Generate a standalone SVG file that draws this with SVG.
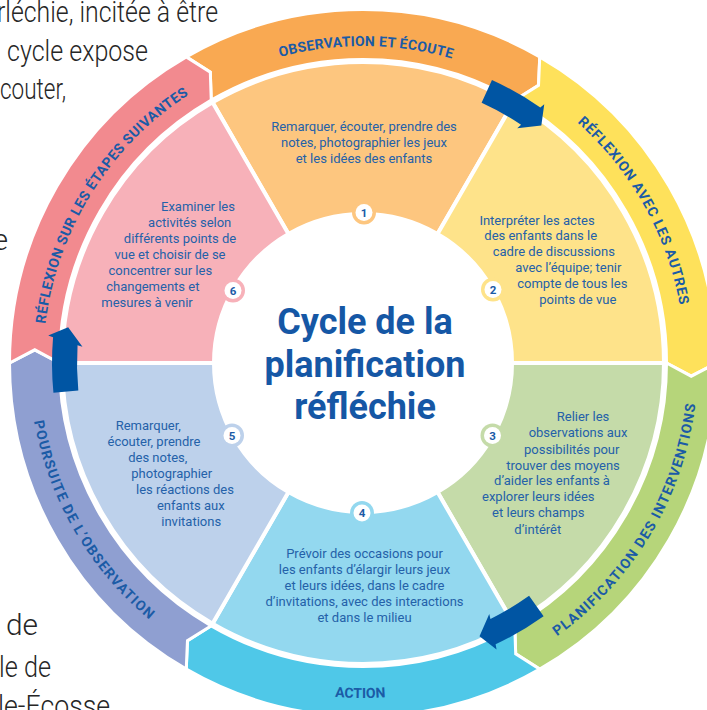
<svg xmlns="http://www.w3.org/2000/svg" width="707" height="710" viewBox="0 0 707 710">
<style>
.bg{font-family:Roboto,"Liberation Sans",sans-serif;font-weight:300;font-size:29px;fill:#262626}
.wt{font-family:Roboto,"Liberation Sans",sans-serif;font-size:13px;fill:#2461A9;text-anchor:middle}
.rl{font-family:Roboto,"Liberation Sans",sans-serif;font-weight:700;font-size:14px;fill:#1B5BA6;text-anchor:middle}
.bn{font-family:Roboto,"Liberation Sans",sans-serif;font-weight:700;font-size:11.5px;fill:#1B5BA6;text-anchor:middle}
.title{font-family:Roboto,"Liberation Sans",sans-serif;font-weight:700;font-size:36px;fill:#1557A5;text-anchor:middle}
.wedge{stroke:#fff;stroke-width:4;stroke-linejoin:miter}
.seg{stroke:#fff;stroke-width:3;stroke-linejoin:miter}
.arrow{fill:#0055A3}
</style>
<defs>
<path id="p1" d="M46,363 A317,317 0 1 1 680,363 A317,317 0 1 1 46,363"/>
<path id="p2" d="M41,363 A322,322 0 1 1 685,363 A322,322 0 1 1 41,363"/>
<path id="p6" d="M43,363 A320,320 0 1 1 683,363 A320,320 0 1 1 43,363"/>
<path id="p5" d="M29,363 A334,334 0 1 0 697,363 A334,334 0 1 0 29,363"/>
<path id="p4" d="M28,363 A335,335 0 1 0 698,363 A335,335 0 1 0 28,363"/>
</defs>
<rect width="707" height="710" fill="#fff"/>
<g id="background-text">
<text class="bg" x="-3" y="22" textLength="221" lengthAdjust="spacingAndGlyphs">rléchie, incitée à être</text>
<text class="bg" x="7" y="60.5" textLength="141" lengthAdjust="spacingAndGlyphs">cycle expose</text>
<text class="bg" x="0" y="99" textLength="66" lengthAdjust="spacingAndGlyphs">couter,</text>
<text class="bg" x="-7" y="250">e</text>
<text class="bg" x="6" y="635" textLength="32" lengthAdjust="spacingAndGlyphs">de</text>
<text class="bg" x="-1" y="677" textLength="52" lengthAdjust="spacingAndGlyphs">le de</text>
<text class="bg" x="-2" y="716" textLength="112" lengthAdjust="spacingAndGlyphs">le-Écosse</text>
</g>
<g id="node-1">
<path class="wedge" fill="#FDC67F" d="M212.5,102.33 A301,301 0 0 1 513.5,102.33 L437.5,233.96 A149,149 0 0 0 288.5,233.96 Z"/>
<path class="seg" fill="#F9A952" d="M186.25,56.86 A353.5,353.5 0 0 1 539.75,56.86 L538.53,85.33 L514.75,100.16 A303.5,303.5 0 0 0 211.25,100.16 L210.3,72.15 Z"/>
<text class="rl"><textPath href="#p1" startOffset="500.7" textLength="174">OBSERVATION ET ÉCOUTE</textPath></text>
<text class="wt" x="364" y="131">Remarquer, écouter, prendre des</text>
<text class="wt" x="364" y="147">notes, photographier les jeux</text>
<text class="wt" x="364" y="163">et les idées des enfants</text>
<circle cx="364" cy="212.5" r="12" fill="#FDC67F"/><circle cx="364" cy="212.5" r="8.5" fill="#fff"/>
<text class="bn" x="364" y="216.5">1</text>
</g>
<g id="node-2">
<path class="wedge" fill="#FEE38A" d="M513.5,102.33 A301,301 0 0 1 664,363 L512,363 A149,149 0 0 0 437.5,233.96 Z"/>
<path class="seg" fill="#FEE15B" d="M539.75,56.86 A353.5,353.5 0 0 1 716.5,363 L691.23,376.18 L666.5,363 A303.5,303.5 0 0 0 514.75,100.16 L538.53,85.33 Z"/>
<text class="rl"><textPath href="#p2" startOffset="846.4" textLength="213">RÉFLEXION AVEC LES AUTRES</textPath></text>
<text class="wt" x="537" y="224.5">Interpréter les actes</text>
<text class="wt" x="540.7" y="240">des enfants dans le</text>
<text class="wt" x="553.8" y="255.5">cadre de discussions</text>
<text class="wt" x="568.3" y="271.5">avec l’équipe; tenir</text>
<text class="wt" x="572.3" y="287.5">compte de tous les</text>
<text class="wt" x="577.8" y="303.5">points de vue</text>
<circle cx="493" cy="289.5" r="12" fill="#FEE38A"/><circle cx="493" cy="289.5" r="8.5" fill="#fff"/>
<text class="bn" x="493" y="293.5">2</text>
</g>
<g id="node-3">
<path class="wedge" fill="#C5DBA9" d="M664,363 A301,301 0 0 1 513.5,623.67 L437.5,492.04 A149,149 0 0 0 512,363 Z"/>
<path class="seg" fill="#B6D57A" d="M716.5,363 A353.5,353.5 0 0 1 539.75,669.14 L515.7,653.85 L514.75,625.84 A303.5,303.5 0 0 0 666.5,363 L691.23,376.18 Z"/>
<text class="rl"><textPath href="#p4" startOffset="871.7" textLength="278">PLANIFICATION DES INTERVENTIONS</textPath></text>
<text class="wt" x="583" y="421">Relier les</text>
<text class="wt" x="578" y="437">observations aux</text>
<text class="wt" x="571.7" y="453.5">possibilités pour</text>
<text class="wt" x="563" y="469.5">trouver des moyens</text>
<text class="wt" x="552" y="485">d’aider les enfants à</text>
<text class="wt" x="538.3" y="501">explorer leurs idées</text>
<text class="wt" x="538.3" y="517">et leurs champs</text>
<text class="wt" x="537.8" y="533.5">d’intérêt</text>
<circle cx="492.5" cy="435.5" r="12" fill="#C5DBA9"/><circle cx="492.5" cy="435.5" r="8.5" fill="#fff"/>
<text class="bn" x="492.5" y="439.5">3</text>
</g>
<g id="node-4">
<path class="wedge" fill="#93D8EF" d="M513.5,623.67 A301,301 0 0 1 212.5,623.67 L288.5,492.04 A149,149 0 0 0 437.5,492.04 Z"/>
<path class="seg" fill="#4FC8E8" d="M539.75,669.14 A353.5,353.5 0 0 1 186.25,669.14 L187.47,640.67 L211.25,625.84 A303.5,303.5 0 0 0 514.75,625.84 L515.7,653.85 Z"/>
<text class="rl"><textPath href="#p4" startOffset="523.3" textLength="51">ACTION</textPath></text>
<text class="wt" x="364.5" y="557.5">Prévoir des occasions pour</text>
<text class="wt" x="364.5" y="573.5">les enfants d’élargir leurs jeux</text>
<text class="wt" x="364.5" y="589.5">et leurs idées, dans le cadre</text>
<text class="wt" x="364.5" y="605.5">d’invitations, avec des interactions</text>
<text class="wt" x="364.5" y="621.5">et dans le milieu</text>
<circle cx="362" cy="513" r="12" fill="#93D8EF"/><circle cx="362" cy="513" r="8.5" fill="#fff"/>
<text class="bn" x="362" y="517">4</text>
</g>
<g id="node-5">
<path class="wedge" fill="#BDD1EB" d="M212.5,623.67 A301,301 0 0 1 62,363 L214,363 A149,149 0 0 0 288.5,492.04 Z"/>
<path class="seg" fill="#8F9FD1" d="M186.25,669.14 A353.5,353.5 0 0 1 9.5,363 L34.77,349.82 L59.5,363 A303.5,303.5 0 0 0 211.25,625.84 L187.47,640.67 Z"/>
<text class="rl"><textPath href="#p5" startOffset="175.5" textLength="234">POURSUITE DE L’OBSERVATION</textPath></text>
<text class="wt" x="148.3" y="429.5">Remarquer,</text>
<text class="wt" x="154" y="445.5">écouter, prendre</text>
<text class="wt" x="157.8" y="461.5">des notes,</text>
<text class="wt" x="171.7" y="477.5">photographier</text>
<text class="wt" x="185" y="493.5">les réactions des</text>
<text class="wt" x="190.8" y="509.5">enfants aux</text>
<text class="wt" x="191.2" y="525.5">invitations</text>
<circle cx="232" cy="435.5" r="12" fill="#BDD1EB"/><circle cx="232" cy="435.5" r="8.5" fill="#fff"/>
<text class="bn" x="232" y="439.5">5</text>
</g>
<g id="node-6">
<path class="wedge" fill="#F7B1B9" d="M62,363 A301,301 0 0 1 212.5,102.33 L288.5,233.96 A149,149 0 0 0 214,363 Z"/>
<path class="seg" fill="#F28A8F" d="M9.5,363 A353.5,353.5 0 0 1 186.25,56.86 L210.3,72.15 L211.25,100.16 A303.5,303.5 0 0 0 59.5,363 L34.77,349.82 Z"/>
<text class="rl"><textPath href="#p6" startOffset="178.7" textLength="279">RÉFLEXION SUR LES ÉTAPES SUIVANTES</textPath></text>
<text class="wt" x="198" y="211">Examiner les</text>
<text class="wt" x="189.7" y="226.5">activités selon</text>
<text class="wt" x="180" y="242.5">différents points de</text>
<text class="wt" x="170" y="258.5">vue et choisir de se</text>
<text class="wt" x="160.3" y="274.5">concentrer sur les</text>
<text class="wt" x="152.8" y="290.5">changements et</text>
<text class="wt" x="147" y="306.5">mesures à venir</text>
<circle cx="233" cy="290.5" r="12" fill="#F7B1B9"/><circle cx="233" cy="290.5" r="8.5" fill="#fff"/>
<text class="bn" x="233" y="294.5">6</text>
</g>
<g id="title">
<text class="title" x="365" y="334">Cycle de la</text>
<text class="title" x="365" y="376.5">planification</text>
<text class="title" x="365" y="419">réfléchie</text>
</g>
<g id="connectors">
<path class="arrow" d="M491.97,80 A311,311 0 0 1 540.32,107.5 L544.25,104.15 L541.32,125.5 L517.27,128.14 L521.04,124.64 A286,286 0 0 0 481.6,102.75 Z"/>
<path class="arrow" d="M543.6,616.19 A311,311 0 0 1 495.61,644.31 L496.55,649.39 L479.52,636.19 L489.26,614.04 L490.43,619.04 A286,286 0 0 0 529.08,595.84 Z"/>
<path class="arrow" d="M53.43,392.81 A311,311 0 0 1 53.07,337.19 L48.2,335.46 L68.15,327.32 L82.47,346.83 L77.55,345.34 A286,286 0 0 0 78.32,390.41 Z"/>
</g>
</svg>
